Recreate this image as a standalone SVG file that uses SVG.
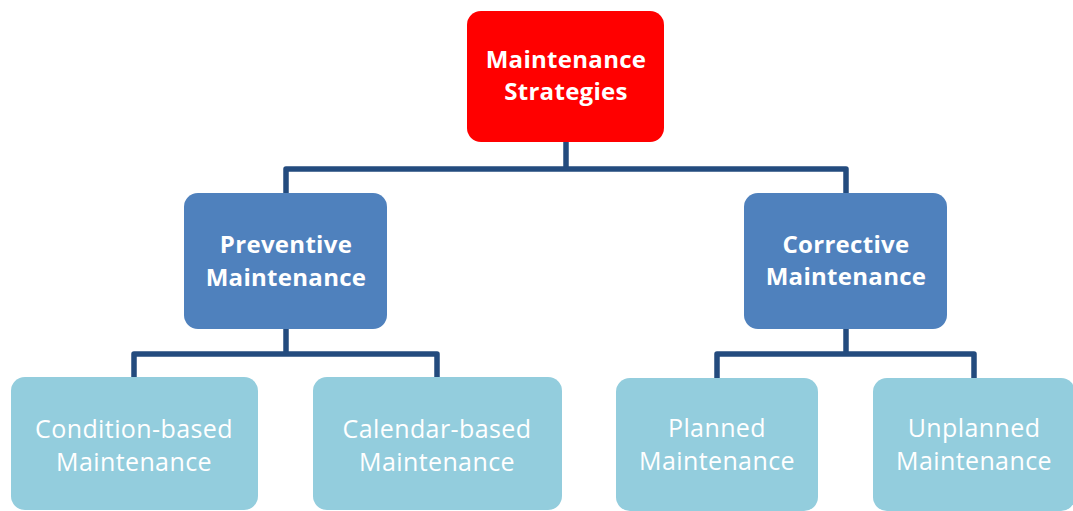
<svg xmlns="http://www.w3.org/2000/svg" width="1073" height="511" viewBox="0 0 1073 511">
<style>
.conn{fill:none;stroke:#234B7E;stroke-width:5.5;stroke-linejoin:round;stroke-linecap:butt}
.top{fill:#FF0000}
.mid{fill:#4F81BD}
.leaf{fill:#93CDDD}
.tb{font-family:"Open Sans","Liberation Sans",sans-serif;font-weight:bold;font-size:24px;letter-spacing:0.3px;fill:#FFFFFF;text-anchor:middle}
.tr{font-family:"Open Sans","Liberation Sans",sans-serif;font-size:25px;letter-spacing:0.4px;fill:#FFFFFF;text-anchor:middle}
</style>
<rect width="1073" height="511" fill="#FFFFFF"/>
<g id="connectors">
<path class="conn" d="M566,142 V169"/>
<path class="conn" d="M286,193 V169 H846 V193"/>
<path class="conn" d="M286,329 V354"/>
<path class="conn" d="M134,377 V354 H437 V377"/>
<path class="conn" d="M846,329 V354"/>
<path class="conn" d="M717,378 V354 H974 V378"/>
</g>
<g id="maintenance-strategies">
<rect class="top" x="467" y="11" width="197" height="131" rx="14"/>
<text class="tb" x="566" y="68">Maintenance</text>
<text class="tb" x="566" y="100">Strategies</text>
</g>
<g id="preventive">
<rect class="mid" x="184" y="193" width="203" height="136" rx="14"/>
<text class="tb" x="286" y="253">Preventive</text>
<text class="tb" x="286" y="286">Maintenance</text>
</g>
<g id="corrective">
<rect class="mid" x="744" y="193" width="203" height="136" rx="14"/>
<text class="tb" x="846" y="253">Corrective</text>
<text class="tb" x="846" y="285">Maintenance</text>
</g>
<g id="condition-based">
<rect class="leaf" x="11" y="377" width="247" height="133" rx="14"/>
<text class="tr" x="134" y="438">Condition-based</text>
<text class="tr" x="134" y="471">Maintenance</text>
</g>
<g id="calendar-based">
<rect class="leaf" x="313" y="377" width="249" height="133" rx="14"/>
<text class="tr" x="437" y="438">Calendar-based</text>
<text class="tr" x="437" y="471">Maintenance</text>
</g>
<g id="planned">
<rect class="leaf" x="616" y="378" width="202" height="133" rx="14"/>
<text class="tr" x="717" y="437">Planned</text>
<text class="tr" x="717" y="470">Maintenance</text>
</g>
<g id="unplanned">
<rect class="leaf" x="873" y="378" width="202" height="133" rx="14"/>
<text class="tr" x="974" y="437">Unplanned</text>
<text class="tr" x="974" y="470">Maintenance</text>
</g>
</svg>
